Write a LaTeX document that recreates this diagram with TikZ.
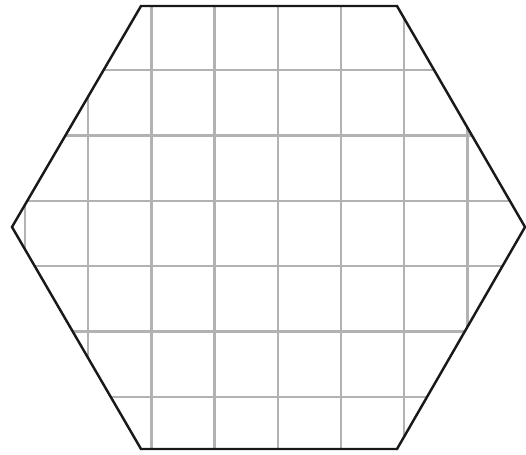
\documentclass[tikz,border=0pt]{standalone}
\tikzset{
  gridline/.style={color=black!30,line width=1.4pt},
  hexline/.style={color=black!90,line width=1.4pt,line join=miter}
}
\begin{document}
\begin{tikzpicture}[x=0.02cm,y=-0.02cm]
  \useasboundingbox (0,0) rectangle (526,454);
  \coordinate (w)  at (12,227);
  \coordinate (nw) at (141,6);
  \coordinate (ne) at (397,6);
  \coordinate (e)  at (525,227);
  \coordinate (se) at (397,449);
  \coordinate (sw) at (141,449);

  \begin{scope}
    \clip (w) -- (nw) -- (ne) -- (e) -- (se) -- (sw) -- cycle;
    \foreach \i in {0,...,7}
      \draw[gridline] (25+63.2*\i,0) -- (25+63.2*\i,454);
    \foreach \j in {-1,...,5}
      \draw[gridline] (0,70+65.4*\j) -- (526,70+65.4*\j);
  \end{scope}

  \draw[hexline] (w) -- (nw) -- (ne) -- (e) -- (se) -- (sw) -- cycle;
\end{tikzpicture}
\end{document}
